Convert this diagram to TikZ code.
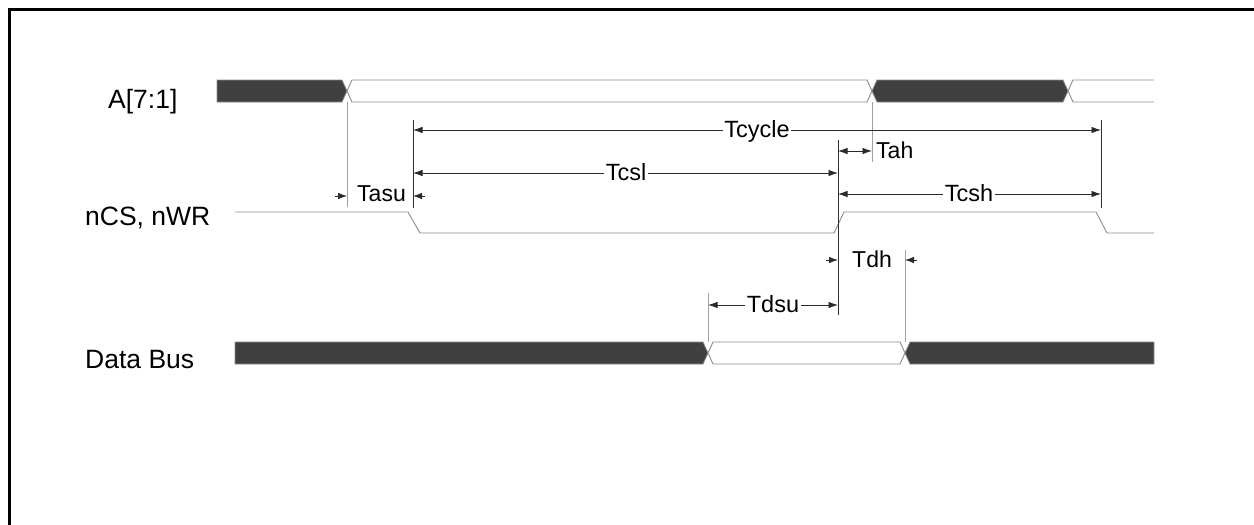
\documentclass[tikz,border=0pt]{standalone}
\usepackage{fontspec}
\setmainfont{Liberation Sans}
\usetikzlibrary{arrows.meta}
\definecolor{busdark}{HTML}{404040}
\definecolor{busedge}{HTML}{8C8C8C}
\definecolor{guide}{HTML}{A0A0A0}
\definecolor{guidedark}{HTML}{303030}
\definecolor{dimcol}{HTML}{2A2A2A}
\tikzset{
  frame/.style={line width=2.6pt, black},
  darkbus/.style={fill=busdark, draw=busedge, line width=0.8pt},
  whitebus/.style={fill=white, draw=busedge, line width=0.9pt},
  sigline/.style={draw=busedge, line width=0.9pt},
  guideline/.style={draw=guide, line width=0.8pt},
  guidestrong/.style={draw=guidedark, line width=0.9pt},
  dimline/.style={draw=dimcol, line width=0.8pt, {Latex[length=9.5pt,width=6.5pt]}-{Latex[length=9.5pt,width=6.5pt]}},
  halfarrow/.style={draw=dimcol, line width=0.8pt, -{Latex[length=9pt,width=6.5pt]}},
  tlabel/.style={anchor=base, fill=white, inner sep=1.5pt, font=\fontsize{23.5}{26}\selectfont, text=black},
  tlabelplain/.style={anchor=base west, inner sep=0pt, font=\fontsize{23}{26}\selectfont, text=black},
  signame/.style={anchor=base west, inner sep=0pt, font=\fontsize{26.5}{30}\selectfont, text=black}
}
\begin{document}
\begin{tikzpicture}[x=1pt,y=-1pt]
\useasboundingbox (0,0) rectangle (1254,525);
\fill[white] (0,0) rectangle (1254,525);
% frame (only top and left visible)
\draw[frame] (9.5,525) -- (9.5,9.5) -- (1254,9.5);

% signal names
\node[signame] (nA) at (108,108) {A[7:1]};
\node[signame] (nCS) at (85,225) {nCS, nWR};
\node[signame] (nD) at (85,368) {Data Bus};

% A[7:1] bus
\path[darkbus] (217,80) -- (342,80) -- (347,91) -- (342,102) -- (217,102) -- cycle;
\path[whitebus] (347,91) -- (352,80) -- (867,80) -- (872,91) -- (867,102) -- (352,102) -- cycle;
\path[darkbus] (872,91) -- (877,80) -- (1063,80) -- (1068,91) -- (1063,102) -- (877,102) -- cycle;
\path[whitebus] (1154,80) -- (1073,80) -- (1068,91) -- (1073,102) -- (1154,102);

% nCS, nWR
\path[sigline] (235,212) -- (408,212) -- (420,233) -- (834,233) -- (844,212) -- (1096,212) -- (1107,233) -- (1154,233);

% Data bus
\path[darkbus] (235,342) -- (703,342) -- (708,353) -- (703,364) -- (235,364) -- cycle;
\path[whitebus] (708,353) -- (713,342) -- (900,342) -- (905,353) -- (900,364) -- (713,364) -- cycle;
\path[darkbus] (905,353) -- (910,342) -- (1154,342) -- (1154,364) -- (910,364) -- cycle;

% guide lines
\coordinate (g347t) at (347,102); \coordinate (g347b) at (347,207);
\coordinate (g413t) at (413,120); \coordinate (g413b) at (413,208);
\coordinate (g1101t) at (1101,120); \coordinate (g1101b) at (1101,208);
\coordinate (g872t) at (872,102); \coordinate (g872b) at (872,162);
\coordinate (g838t) at (838,140); \coordinate (g838b) at (838,315);
\coordinate (g905t) at (905,250); \coordinate (g905b) at (905,342);
\coordinate (g708t) at (708,293); \coordinate (g708b) at (708,342);
\draw[guideline] (g347t) -- (g347b);
\draw[guidestrong] (g413t) -- (g413b);
\draw[guidestrong] (g1101t) -- (g1101b);
\draw[guideline] (g872t) -- (g872b);
\draw[guidestrong] (g838t) -- (g838b);
\draw[guideline] (g905t) -- (g905b);
\draw[guideline] (g708t) -- (g708b);

% Tcycle
\coordinate (cyL) at (413,130); \coordinate (cyR) at (1101,130);
\draw[dimline] (cyL) -- (cyR);
\node[tlabel] (Tcycle) at (757,137) {Tcycle};

% Tah
\coordinate (ahL) at (838,151); \coordinate (ahR) at (872,151);
\draw[dimline] (ahL) -- (ahR);
\node[tlabelplain] (Tah) at (876,158) {Tah};

% Tcsl
\coordinate (cslL) at (413,173); \coordinate (cslR) at (838,173);
\draw[dimline] (cslL) -- (cslR);
\node[tlabel] (Tcsl) at (626,180) {Tcsl};

% Tcsh
\coordinate (cshL) at (838,194); \coordinate (cshR) at (1101,194);
\draw[dimline] (cshL) -- (cshR);
\node[tlabel] (Tcsh) at (969,201) {Tcsh};

% Tasu
\coordinate (asuA) at (335,196); \coordinate (asuB) at (347,196);
\coordinate (asuC) at (425,196); \coordinate (asuD) at (413,196);
\draw[halfarrow] (asuA) -- (asuB);
\draw[halfarrow] (asuC) -- (asuD);
\node[tlabelplain] (Tasu) at (357,201) {Tasu};

% Tdh
\coordinate (dhA) at (826,260); \coordinate (dhB) at (838,260);
\coordinate (dhC) at (917,260); \coordinate (dhD) at (905,260);
\draw[halfarrow] (dhA) -- (dhB);
\draw[halfarrow] (dhC) -- (dhD);
\node[tlabelplain] (Tdh) at (852,267) {Tdh};

% Tdsu
\coordinate (dsuL) at (708,305); \coordinate (dsuR) at (838,305);
\draw[dimline] (dsuL) -- (dsuR);
\node[tlabel] (Tdsu) at (773,312) {Tdsu};
\end{tikzpicture}
\end{document}
